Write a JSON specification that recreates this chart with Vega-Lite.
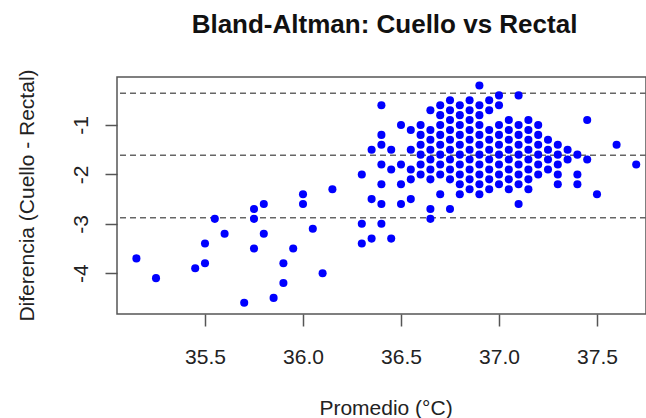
{
  "$schema": "https://vega.github.io/schema/vega-lite/v6.json",
  "width": 529,
  "height": 237,
  "autosize": {"type": "none"},
  "padding": {"left": 117, "top": 77, "right": 0, "bottom": 104},
  "background": "white",
  "title": {
    "text": "Bland-Altman: Cuello vs Rectal",
    "font": "Liberation Sans",
    "fontSize": 26,
    "fontWeight": "bold",
    "color": "#111111",
    "baseline": "alphabetic",
    "offset": 44,
    "dy": 34,
    "anchor": "middle",
    "dx": 3,
    "frame": "group"
  },
  "config": {
    "view": {"stroke": "#555555", "strokeWidth": 1.5},
    "axis": {
      "domain": false,
      "grid": false,
      "tickSize": 12,
      "tickColor": "#555555",
      "tickWidth": 1.5,
      "labelFont": "Liberation Sans",
      "labelFontSize": 21,
      "labelColor": "#222222",
      "labelFlush": false,
      "labelOverlap": false,
      "titleFont": "Liberation Sans",
      "titleFontSize": 21,
      "titleFontWeight": "normal",
      "titleColor": "#222222"
    }
  },
  "datasets": {
    "limites": [
      {"limite": -0.358},
      {"limite": -1.613},
      {"limite": -2.876}
    ],
    "puntos": [
      {"promedio": 35.15, "diferencia": -3.7},
      {"promedio": 35.25, "diferencia": -4.1},
      {"promedio": 35.45, "diferencia": -3.9},
      {"promedio": 35.5, "diferencia": -3.8},
      {"promedio": 35.5, "diferencia": -3.4},
      {"promedio": 35.55, "diferencia": -2.9},
      {"promedio": 35.6, "diferencia": -3.2},
      {"promedio": 35.7, "diferencia": -4.6},
      {"promedio": 35.75, "diferencia": -3.5},
      {"promedio": 35.75, "diferencia": -2.9},
      {"promedio": 35.75, "diferencia": -2.7},
      {"promedio": 35.8, "diferencia": -2.6},
      {"promedio": 35.8, "diferencia": -3.2},
      {"promedio": 35.85, "diferencia": -4.5},
      {"promedio": 35.9, "diferencia": -4.2},
      {"promedio": 35.9, "diferencia": -3.8},
      {"promedio": 35.95, "diferencia": -3.5},
      {"promedio": 36.0, "diferencia": -2.4},
      {"promedio": 36.0, "diferencia": -2.6},
      {"promedio": 36.05, "diferencia": -3.1},
      {"promedio": 36.1, "diferencia": -4.0},
      {"promedio": 36.15, "diferencia": -2.3},
      {"promedio": 36.3, "diferencia": -2.0},
      {"promedio": 36.3, "diferencia": -3.0},
      {"promedio": 36.3, "diferencia": -3.4},
      {"promedio": 36.35, "diferencia": -1.5},
      {"promedio": 36.35, "diferencia": -2.5},
      {"promedio": 36.35, "diferencia": -3.3},
      {"promedio": 36.4, "diferencia": -0.6},
      {"promedio": 36.4, "diferencia": -1.2},
      {"promedio": 36.4, "diferencia": -1.4},
      {"promedio": 36.4, "diferencia": -1.8},
      {"promedio": 36.4, "diferencia": -2.2},
      {"promedio": 36.4, "diferencia": -2.6},
      {"promedio": 36.4, "diferencia": -3.0},
      {"promedio": 36.45, "diferencia": -1.5},
      {"promedio": 36.45, "diferencia": -1.9},
      {"promedio": 36.45, "diferencia": -3.3},
      {"promedio": 36.5, "diferencia": -1.0},
      {"promedio": 36.5, "diferencia": -1.8},
      {"promedio": 36.5, "diferencia": -2.2},
      {"promedio": 36.5, "diferencia": -2.6},
      {"promedio": 36.55, "diferencia": -1.1},
      {"promedio": 36.55, "diferencia": -1.5},
      {"promedio": 36.55, "diferencia": -1.9},
      {"promedio": 36.55, "diferencia": -2.1},
      {"promedio": 36.55, "diferencia": -2.5},
      {"promedio": 36.6, "diferencia": -1.0},
      {"promedio": 36.6, "diferencia": -1.2},
      {"promedio": 36.6, "diferencia": -1.4},
      {"promedio": 36.6, "diferencia": -1.6},
      {"promedio": 36.6, "diferencia": -1.8},
      {"promedio": 36.6, "diferencia": -2.0},
      {"promedio": 36.65, "diferencia": -0.7},
      {"promedio": 36.65, "diferencia": -1.1},
      {"promedio": 36.65, "diferencia": -1.3},
      {"promedio": 36.65, "diferencia": -1.5},
      {"promedio": 36.65, "diferencia": -1.7},
      {"promedio": 36.65, "diferencia": -1.9},
      {"promedio": 36.65, "diferencia": -2.1},
      {"promedio": 36.65, "diferencia": -2.7},
      {"promedio": 36.65, "diferencia": -2.9},
      {"promedio": 36.7, "diferencia": -0.6},
      {"promedio": 36.7, "diferencia": -0.8},
      {"promedio": 36.7, "diferencia": -1.0},
      {"promedio": 36.7, "diferencia": -1.2},
      {"promedio": 36.7, "diferencia": -1.4},
      {"promedio": 36.7, "diferencia": -1.6},
      {"promedio": 36.7, "diferencia": -1.8},
      {"promedio": 36.7, "diferencia": -2.0},
      {"promedio": 36.7, "diferencia": -2.4},
      {"promedio": 36.75, "diferencia": -0.5},
      {"promedio": 36.75, "diferencia": -0.7},
      {"promedio": 36.75, "diferencia": -0.9},
      {"promedio": 36.75, "diferencia": -1.1},
      {"promedio": 36.75, "diferencia": -1.3},
      {"promedio": 36.75, "diferencia": -1.5},
      {"promedio": 36.75, "diferencia": -1.7},
      {"promedio": 36.75, "diferencia": -1.9},
      {"promedio": 36.75, "diferencia": -2.1},
      {"promedio": 36.75, "diferencia": -2.7},
      {"promedio": 36.8, "diferencia": -0.6},
      {"promedio": 36.8, "diferencia": -0.8},
      {"promedio": 36.8, "diferencia": -1.0},
      {"promedio": 36.8, "diferencia": -1.2},
      {"promedio": 36.8, "diferencia": -1.4},
      {"promedio": 36.8, "diferencia": -1.6},
      {"promedio": 36.8, "diferencia": -1.8},
      {"promedio": 36.8, "diferencia": -2.0},
      {"promedio": 36.8, "diferencia": -2.2},
      {"promedio": 36.8, "diferencia": -2.4},
      {"promedio": 36.85, "diferencia": -0.5},
      {"promedio": 36.85, "diferencia": -0.7},
      {"promedio": 36.85, "diferencia": -0.9},
      {"promedio": 36.85, "diferencia": -1.1},
      {"promedio": 36.85, "diferencia": -1.3},
      {"promedio": 36.85, "diferencia": -1.5},
      {"promedio": 36.85, "diferencia": -1.7},
      {"promedio": 36.85, "diferencia": -1.9},
      {"promedio": 36.85, "diferencia": -2.1},
      {"promedio": 36.85, "diferencia": -2.3},
      {"promedio": 36.9, "diferencia": -0.2},
      {"promedio": 36.9, "diferencia": -0.6},
      {"promedio": 36.9, "diferencia": -0.8},
      {"promedio": 36.9, "diferencia": -1.0},
      {"promedio": 36.9, "diferencia": -1.2},
      {"promedio": 36.9, "diferencia": -1.4},
      {"promedio": 36.9, "diferencia": -1.6},
      {"promedio": 36.9, "diferencia": -1.8},
      {"promedio": 36.9, "diferencia": -2.0},
      {"promedio": 36.9, "diferencia": -2.2},
      {"promedio": 36.9, "diferencia": -2.4},
      {"promedio": 36.95, "diferencia": -0.5},
      {"promedio": 36.95, "diferencia": -0.7},
      {"promedio": 36.95, "diferencia": -1.1},
      {"promedio": 36.95, "diferencia": -1.3},
      {"promedio": 36.95, "diferencia": -1.5},
      {"promedio": 36.95, "diferencia": -1.7},
      {"promedio": 36.95, "diferencia": -1.9},
      {"promedio": 36.95, "diferencia": -2.1},
      {"promedio": 36.95, "diferencia": -2.3},
      {"promedio": 37.0, "diferencia": -0.4},
      {"promedio": 37.0, "diferencia": -0.6},
      {"promedio": 37.0, "diferencia": -1.0},
      {"promedio": 37.0, "diferencia": -1.2},
      {"promedio": 37.0, "diferencia": -1.4},
      {"promedio": 37.0, "diferencia": -1.6},
      {"promedio": 37.0, "diferencia": -1.8},
      {"promedio": 37.0, "diferencia": -2.0},
      {"promedio": 37.0, "diferencia": -2.2},
      {"promedio": 37.05, "diferencia": -0.9},
      {"promedio": 37.05, "diferencia": -1.1},
      {"promedio": 37.05, "diferencia": -1.3},
      {"promedio": 37.05, "diferencia": -1.5},
      {"promedio": 37.05, "diferencia": -1.7},
      {"promedio": 37.05, "diferencia": -1.9},
      {"promedio": 37.05, "diferencia": -2.1},
      {"promedio": 37.05, "diferencia": -2.3},
      {"promedio": 37.1, "diferencia": -0.4},
      {"promedio": 37.1, "diferencia": -1.0},
      {"promedio": 37.1, "diferencia": -1.2},
      {"promedio": 37.1, "diferencia": -1.4},
      {"promedio": 37.1, "diferencia": -1.6},
      {"promedio": 37.1, "diferencia": -1.8},
      {"promedio": 37.1, "diferencia": -2.0},
      {"promedio": 37.1, "diferencia": -2.2},
      {"promedio": 37.1, "diferencia": -2.6},
      {"promedio": 37.15, "diferencia": -0.9},
      {"promedio": 37.15, "diferencia": -1.1},
      {"promedio": 37.15, "diferencia": -1.3},
      {"promedio": 37.15, "diferencia": -1.5},
      {"promedio": 37.15, "diferencia": -1.7},
      {"promedio": 37.15, "diferencia": -1.9},
      {"promedio": 37.15, "diferencia": -2.1},
      {"promedio": 37.15, "diferencia": -2.3},
      {"promedio": 37.2, "diferencia": -1.0},
      {"promedio": 37.2, "diferencia": -1.2},
      {"promedio": 37.2, "diferencia": -1.4},
      {"promedio": 37.2, "diferencia": -1.6},
      {"promedio": 37.2, "diferencia": -1.8},
      {"promedio": 37.2, "diferencia": -2.0},
      {"promedio": 37.25, "diferencia": -1.3},
      {"promedio": 37.25, "diferencia": -1.5},
      {"promedio": 37.25, "diferencia": -1.7},
      {"promedio": 37.25, "diferencia": -1.9},
      {"promedio": 37.3, "diferencia": -1.4},
      {"promedio": 37.3, "diferencia": -1.6},
      {"promedio": 37.3, "diferencia": -1.8},
      {"promedio": 37.3, "diferencia": -2.0},
      {"promedio": 37.3, "diferencia": -2.2},
      {"promedio": 37.35, "diferencia": -1.5},
      {"promedio": 37.35, "diferencia": -1.7},
      {"promedio": 37.4, "diferencia": -1.6},
      {"promedio": 37.4, "diferencia": -2.0},
      {"promedio": 37.4, "diferencia": -2.2},
      {"promedio": 37.45, "diferencia": -0.9},
      {"promedio": 37.45, "diferencia": -1.7},
      {"promedio": 37.5, "diferencia": -2.4},
      {"promedio": 37.6, "diferencia": -1.4},
      {"promedio": 37.7, "diferencia": -1.8}
    ]
  },
  "layer": [
    {
      "data": {"name": "limites"},
      "mark": {"type": "rule", "stroke": "#666666", "strokeWidth": 1.5, "strokeDash": [6, 4]},
      "encoding": {
        "y": {"field": "limite", "type": "quantitative"}
      }
    },
    {
      "data": {"name": "puntos"},
      "mark": {"type": "point", "filled": true, "color": "#0000ff", "opacity": 1, "size": 65, "strokeWidth": 0},
      "encoding": {
        "x": {
          "field": "promedio",
          "type": "quantitative",
          "scale": {"domain": [35.051, 37.75], "nice": false, "zero": false},
          "axis": {
            "values": [35.5, 36.0, 36.5, 37.0, 37.5],
            "format": ".1f",
            "labelBaseline": "top",
            "labelAlign": "center",
            "labelPadding": 20,
            "title": "Promedio (°C)",
            "titleX": 268.5,
            "titleY": 100,
            "titleAlign": "center",
            "titleBaseline": "alphabetic"
          }
        },
        "y": {
          "field": "diferencia",
          "type": "quantitative",
          "scale": {"domain": [-4.826, -0.028], "nice": false, "zero": false},
          "axis": {
            "values": [-1, -2, -3, -4],
            "labelExpr": "'-' + abs(datum.value)",
            "labelAngle": -90,
            "labelAlign": "center",
            "labelBaseline": "alphabetic",
            "labelPadding": 18,
            "title": "Diferencia (Cuello - Rectal)",
            "titleAngle": -90,
            "titleX": -84,
            "titleY": 118,
            "titleAlign": "center",
            "titleBaseline": "alphabetic"
          }
        }
      }
    }
  ]
}
